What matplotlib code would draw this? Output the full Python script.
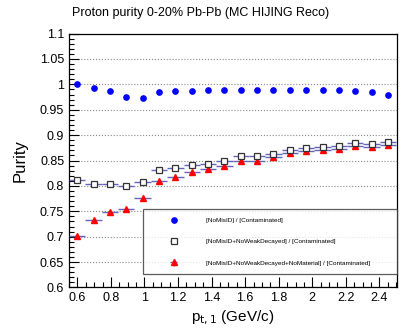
import matplotlib
matplotlib.use("Agg")
from matplotlib import pyplot as plt
from matplotlib.ticker import MultipleLocator
import numpy as np

plt.rcParams['font.family'] = ['Liberation Sans', 'DejaVu Sans']

# 20 bins between 0.55 and 2.5 GeV/c
bin_edges = np.linspace(0.55, 2.5, 21)
pt = 0.5 * (bin_edges[1:] + bin_edges[:-1])
pt_half = 0.5 * (bin_edges[1:] - bin_edges[:-1])

no_misid = [1.000, 0.992, 0.986, 0.976, 0.973, 0.984, 0.987, 0.9875, 0.988, 0.989,
            0.989, 0.989, 0.988, 0.9895, 0.989, 0.989, 0.988, 0.987, 0.984, 0.980]
no_weak = [0.811, 0.804, 0.803, 0.800, 0.808, 0.831, 0.836, 0.841, 0.844, 0.849,
           0.858, 0.858, 0.863, 0.870, 0.875, 0.877, 0.879, 0.884, 0.882, 0.886]
no_material = [0.701, 0.733, 0.748, 0.755, 0.777, 0.810, 0.818, 0.827, 0.834, 0.840,
               0.849, 0.850, 0.856, 0.865, 0.868, 0.871, 0.873, 0.879, 0.877, 0.880]
stat_err = [0.001, 0.001, 0.001, 0.001, 0.001, 0.001, 0.002, 0.002, 0.002, 0.002,
            0.002, 0.002, 0.003, 0.003, 0.003, 0.004, 0.004, 0.005, 0.005, 0.006]

labels = ["[NoMisID] / [Contaminated]",
          "[NoMisID+NoWeakDecayed] / [Contaminated]",
          "[NoMisID+NoWeakDecayed+NoMaterial] / [Contaminated]"]

fig = plt.figure(figsize=(4.07, 3.35), dpi=100)
ax = fig.add_axes([0.1695, 0.1418, 0.806, 0.758])

ax.plot(pt, no_misid, linestyle="none", marker="o", color="#0000ff",
        markersize=3.8, label=labels[0], zorder=5)
ax.errorbar(pt, no_weak, xerr=pt_half, yerr=stat_err, linestyle="none",
            marker="s", markersize=4.2, markerfacecolor="white",
            markeredgecolor="#333333", markeredgewidth=0.9,
            ecolor="#6464bc", elinewidth=1.0, capsize=0, label=labels[1], zorder=4)
ax.errorbar(pt, no_material, xerr=pt_half, yerr=stat_err, linestyle="none",
            marker="^", markersize=4.2, color="#ff0000",
            ecolor="#6464bc", elinewidth=1.0, capsize=0, label=labels[2], zorder=3)

ax.set_xlim(0.55, 2.505)
ax.set_ylim(0.6, 1.1)
ax.xaxis.set_major_locator(MultipleLocator(0.2))
ax.xaxis.set_minor_locator(MultipleLocator(0.05))
ax.yaxis.set_major_locator(MultipleLocator(0.05))
ax.yaxis.set_minor_locator(MultipleLocator(0.01))
ax.xaxis.set_major_formatter(plt.FuncFormatter(lambda v, p: "%g" % round(v, 2)))
ax.yaxis.set_major_formatter(plt.FuncFormatter(lambda v, p: "%g" % round(v, 2)))
ax.tick_params(which="both", direction="in", labelsize=9, top=False, right=False)
ax.tick_params(which="major", length=7, width=0.8)
ax.tick_params(which="minor", length=3.5, width=0.8)
ax.grid(axis="y", which="major", linestyle=":", color="#888888", linewidth=0.8)
for s in ax.spines.values():
    s.set_linewidth(0.9)

ax.set_ylabel("Purity", fontsize=12, loc="center")
ax.yaxis.set_label_coords(-0.125, 0.5)
ax.set_xlabel(r"p$_{\mathrm{t,1}}$ (GeV/c)", fontsize=11)
ax.xaxis.set_label_coords(0.5, -0.085)

fig.text(0.177, 0.962, "Proton purity 0-20% Pb-Pb (MC HIJING Reco)", fontsize=9,
         ha="left", va="center")

leg = ax.legend(loc="lower left", bbox_to_anchor=(0.2256, 0.053, 0.7744, 0.264),
                mode="expand", fontsize=4.6, numpoints=1, handlelength=7,
                handletextpad=1.6, labelspacing=2.5, borderpad=1.3,
                borderaxespad=0, fancybox=False, frameon=True)
leg.get_frame().set_edgecolor("#333333")
leg.get_frame().set_linewidth(0.9)

fig.savefig("out.png", dpi=100)
